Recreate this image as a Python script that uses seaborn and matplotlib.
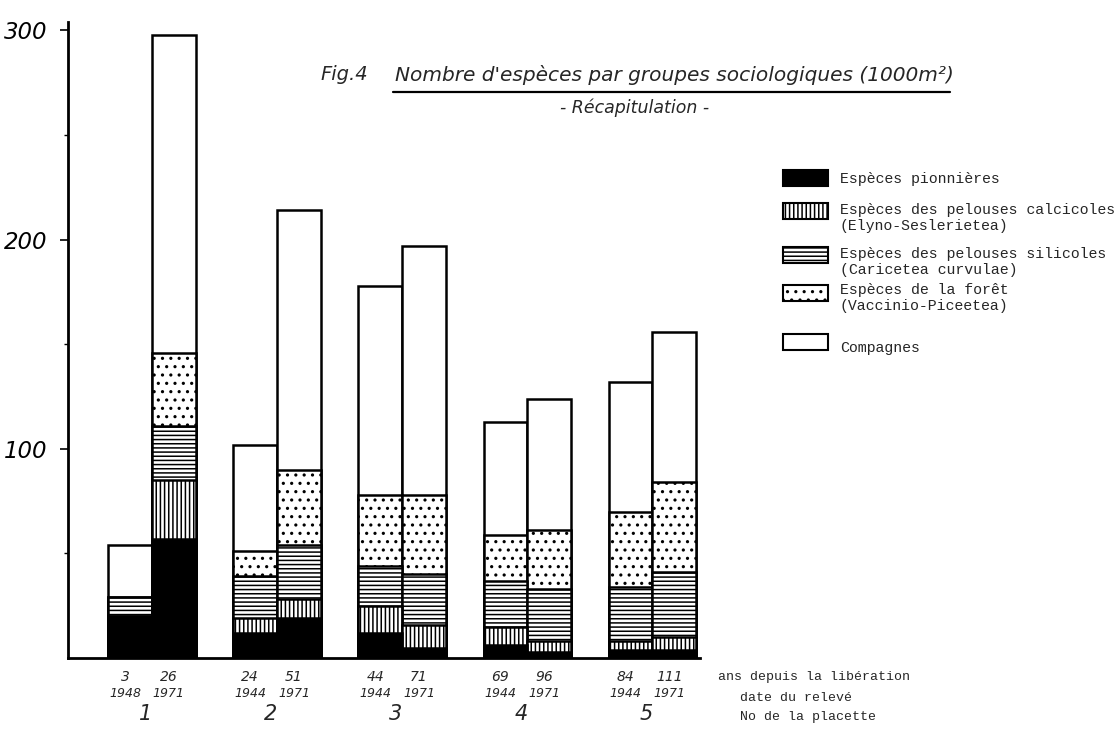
import matplotlib.pyplot as plt
import numpy as np
import pandas as pd
import seaborn as sns
from matplotlib.lines import Line2D
from matplotlib.patches import Rectangle
from matplotlib.transforms import blended_transform_factory

# Data (two relevés per placette)
placettes = ["1", "2", "3", "4", "5"]
annees_releve = ["1948", "1971", "1944", "1971", "1944", "1971", "1944", "1971", "1944", "1971"]
ans_liberation = ["3", "26", "24", "51", "44", "71", "69", "96", "84", "111"]

pionnieres = [20, 57, 12, 19, 12, 5, 6, 3, 4, 4]
calcicoles = [0, 28, 7, 9, 13, 11, 9, 5, 4, 6]
silicoles = [9, 26, 20, 26, 19, 24, 22, 25, 26, 31]
foret = [0, 35, 12, 36, 34, 38, 22, 28, 36, 43]
compagnes = [25, 152, 51, 124, 100, 119, 54, 63, 62, 72]

groupes = [
    "Espèces pionnières",
    "Espèces des pelouses calcicoles\n(Elyno-Seslerietea)",
    "Espèces des pelouses silicoles\n(Caricetea curvulae)",
    "Espèces de la forêt\n(Vaccinio-Piceetea)",
    "Compagnes",
]
couleurs = ["black", "white", "white", "white", "white"]
hachures = [None, "||||", "----", "..", None]

df = pd.DataFrame({
    "placette": np.repeat(placettes, 2),
    "releve": ["a", "b"] * len(placettes),
    "pionnieres": pionnieres,
    "calcicoles": calcicoles,
    "silicoles": silicoles,
    "foret": foret,
    "compagnes": compagnes,
})
cols = ["pionnieres", "calcicoles", "silicoles", "foret", "compagnes"]
cum = df[cols].cumsum(axis=1)
for c in cols:
    df["cum_" + c] = cum[c]

sns.set_style("ticks", rc={"axes.edgecolor": "black", "xtick.color": "black",
                           "ytick.color": "black"})
plt.rcParams["hatch.linewidth"] = 1.1

fig = plt.figure(figsize=(11.19, 7.32), dpi=100)
ax = fig.add_axes([0.0608, 0.1011, 0.5648, 0.8689])

# stacked bars: draw cumulative totals from the top layer down
bar_width = 0.7
for i in reversed(range(len(cols))):
    sns.barplot(
        data=df, x="placette", y="cum_" + cols[i], hue="releve",
        hue_order=["a", "b"], palette=[couleurs[i], couleurs[i]],
        width=bar_width, gap=0, errorbar=None, legend=False,
        edgecolor="black", linewidth=1.8, hatch=hachures[i], ax=ax,
    )

ax.set_xlim(-0.67, 4.38)
ax.set_ylim(0, 304)
ax.set_xticks([])
ax.set_xlabel("")
ax.set_ylabel("")
ax.set_yticks([100, 200, 300])
ax.set_yticklabels(["100", "200", "300"], fontsize=16.5, style="italic")
ax.set_yticks([50, 150, 250], minor=True)
ax.tick_params(axis="y", which="major", length=6, width=1.2, pad=9)
ax.tick_params(axis="y", which="minor", length=3, width=1)
for s in ["left", "bottom"]:
    ax.spines[s].set_linewidth(2)
sns.despine(ax=ax)

# labels under the bars
tr = blended_transform_factory(ax.transData, fig.transFigure)
for k, (a, y) in enumerate(zip(ans_liberation, annees_releve)):
    g = k // 2
    off = (-bar_width / 4 if k % 2 == 0 else bar_width / 4) - 0.04
    ax.text(g + off, 0.075, a, transform=tr, ha="center", va="center",
            fontsize=10, style="italic")
    ax.text(g + off, 0.053, y, transform=tr, ha="center", va="center",
            fontsize=9, style="italic")
for g, p in enumerate(placettes):
    ax.text(g - 0.05, 0.025, p, transform=tr, ha="center", va="center",
            fontsize=15, style="italic")

mono = "Liberation Mono"
fig.text(0.6417, 0.075, "ans depuis la libération", family=mono, size=9.5, va="center")
fig.text(0.661, 0.047, "date du relevé", family=mono, size=9.5, va="center")
fig.text(0.661, 0.021, "No de la placette", family=mono, size=9.5, va="center")

# title
fig.text(0.286, 1 - 75 / 732, "Fig.4", style="italic", size=14, va="center")
fig.text(0.353, 1 - 75 / 732, "Nombre d'espèces par groupes sociologiques (1000m²)",
         style="italic", size=14.5, va="center")
fig.add_artist(Line2D([393 / 1119, 950 / 1119], [1 - 92 / 732] * 2,
                      color="black", lw=1.6, transform=fig.transFigure))
fig.text(0.5675, 1 - 108 / 732, "- Récapitulation -", style="italic", size=12.5,
         ha="center", va="center")

# legend drawn by hand to keep the patch next to the first line
patch_tops = [170, 203, 247, 285, 334]
text_ys = [179, 218, 262, 298, 348]
for lab, fc, h, pt, ty in zip(groupes, couleurs, hachures, patch_tops, text_ys):
    fig.add_artist(Rectangle((783 / 1119, 1 - (pt + 16) / 732), 45 / 1119, 16 / 732,
                             facecolor=fc, edgecolor="black", hatch=h, lw=1.5,
                             transform=fig.transFigure))
    fig.text(840 / 1119, 1 - ty / 732, lab, family=mono, size=10.7, va="center",
             linespacing=1.1)

fig.savefig("out.png", dpi=100)
